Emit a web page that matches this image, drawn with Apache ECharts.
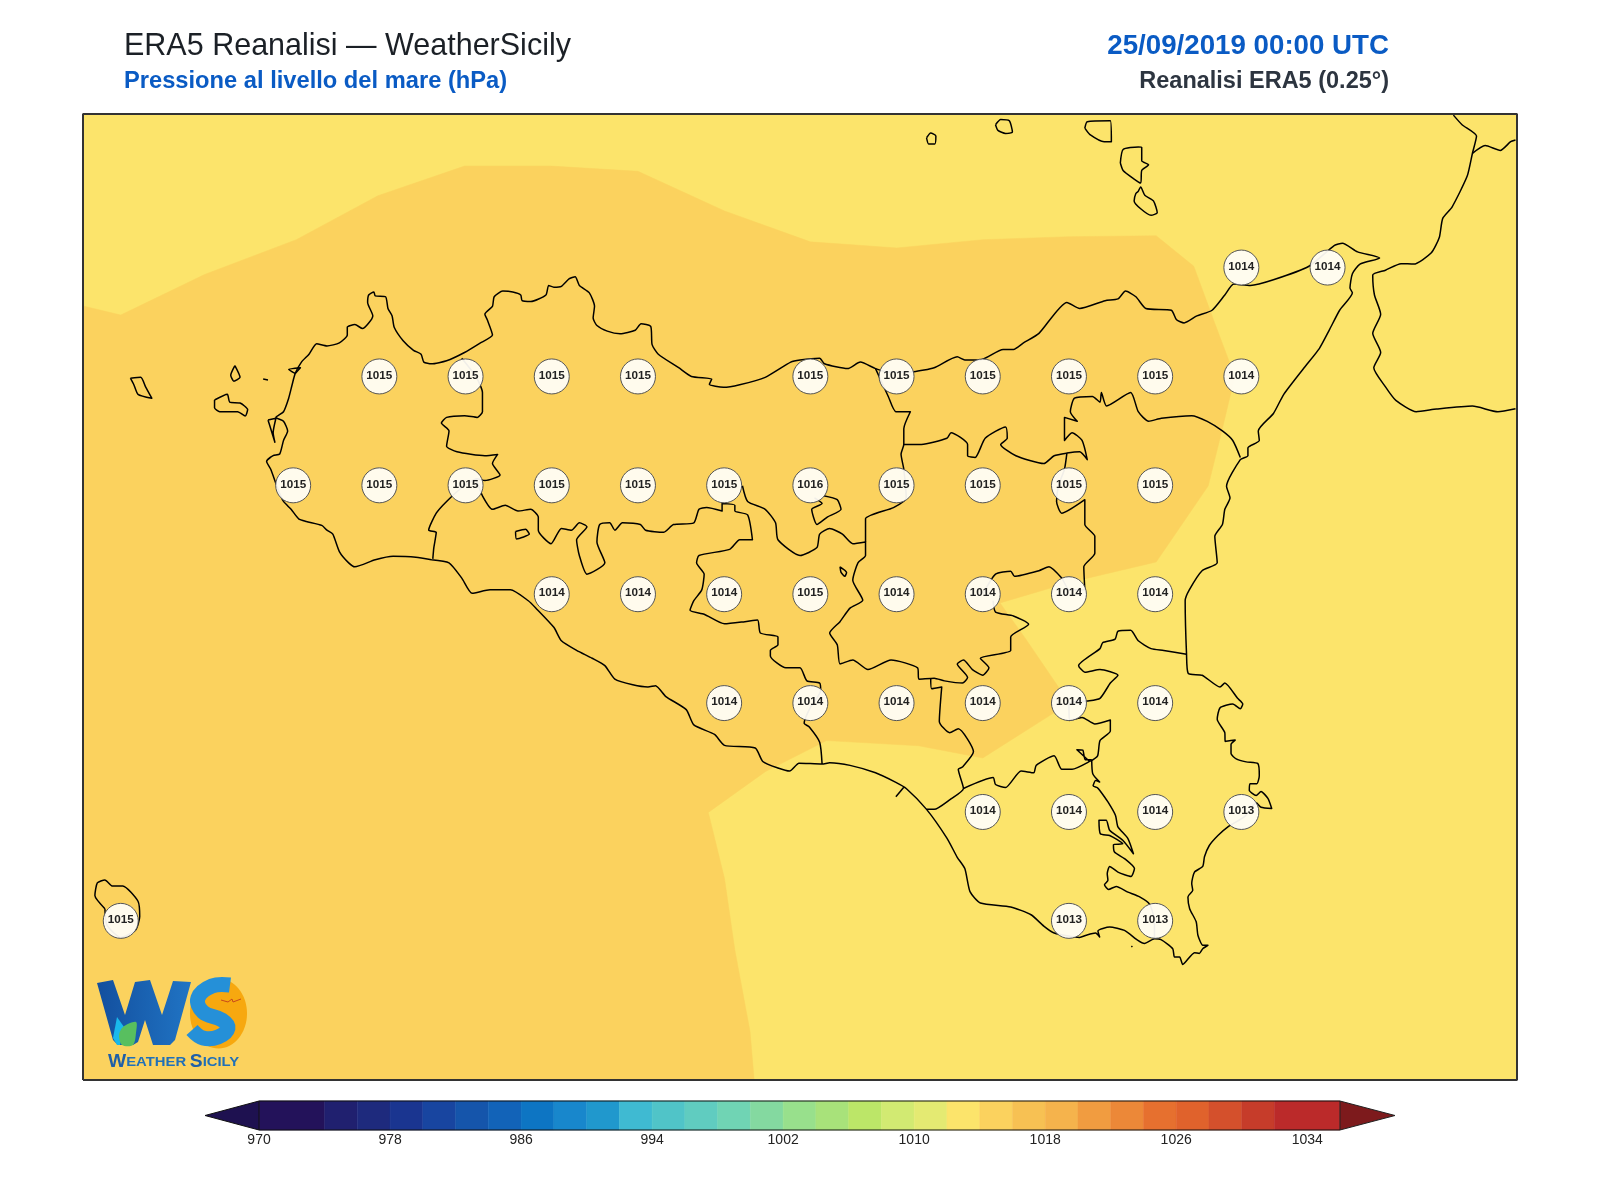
<!DOCTYPE html>
<html>
<head>
<meta charset="utf-8">
<title>ERA5 Reanalisi</title>
<script src="https://cdn.jsdelivr.net/npm/echarts@6/dist/echarts.min.js"></script>
<style>
  html, body { margin: 0; padding: 0; background: #fff; }
  #chart { width: 1600px; height: 1200px; }
</style>
</head>
<body>
<div id="chart"></div>
<script>
// griglia ERA5 0.25: valori
const stationLon = [15.25,15.5,
  12.75,13,13.25,13.5,14,14.25,14.5,14.75,15,15.25,
  12.5,12.75,13,13.25,13.5,13.75,14,14.25,14.5,14.75,15,
  13.25,13.5,13.75,14,14.25,14.5,14.75,15,
  13.75,14,14.25,14.5,14.75,15,
  14.5,14.75,15,15.25,
  12,14.75,15];
const stationLat = [38.25,38.25,
  38,38,38,38,38,38,38,38,38,38,
  37.75,37.75,37.75,37.75,37.75,37.75,37.75,37.75,37.75,37.75,37.75,
  37.5,37.5,37.5,37.5,37.5,37.5,37.5,37.5,
  37.25,37.25,37.25,37.25,37.25,37.25,
  37,37,37,37,
  36.75,36.75,36.75];
const stationHpa = [1014,1014,
  1015,1015,1015,1015,1015,1015,1015,1015,1015,1014,
  1015,1015,1015,1015,1015,1015,1016,1015,1015,1015,1015,
  1014,1014,1014,1015,1014,1014,1014,1014,
  1014,1014,1014,1014,1014,1014,
  1014,1014,1014,1013,
  1015,1013,1013];

// estensione della mappa
const lonRange = [11.8905, 16.0494];
const latRange = [36.3846, 38.6026];

// campo di pressione: zona 1014-1016 sopra il fondo 1012-1014
const seaField = [[11.8905,36.3846],[11.8905,38.6026],[16.0494,38.6026],[16.0494,36.3846]];
const highField = [[11.8905,38.162],[12,38.141],[12.243,38.234],[12.509,38.314],[12.746,38.415],[12.997,38.483],[13.249,38.483],[13.5,38.471],[13.751,38.38],[14,38.309],[14.251,38.295],[14.5,38.314],[14.751,38.321],[15.003,38.323],[15.112,38.253],[15.172,38.124],[15.231,38],[15.192,37.871],[15.154,37.749],[15.003,37.574],[14.751,37.527],[14.55,37.48],[14.624,37.398],[14.751,37.25],[14.5,37.124],[14.314,37.152],[14.047,37.164],[13.87,37.093],[13.704,36.999],[13.751,36.847],[13.781,36.683],[13.825,36.496],[13.837,36.3846],[11.8905,36.3846]];

// costa della Sicilia
const sicilyCoast = [[12.901,37.579],[12.856,37.585],[12.79,37.587],[12.738,37.579],[12.679,37.563],[12.661,37.572],[12.634,37.598],[12.615,37.638],[12.598,37.647],[12.583,37.658],[12.538,37.667],[12.516,37.673],[12.494,37.695],[12.472,37.713],[12.457,37.739],[12.435,37.787],[12.423,37.805],[12.442,37.818],[12.461,37.822],[12.472,37.853],[12.484,37.875],[12.472,37.897],[12.45,37.906],[12.472,37.919],[12.487,37.95],[12.497,37.981],[12.506,38.007],[12.524,38.033],[12.546,38.051],[12.568,38.075],[12.598,38.07],[12.634,38.077],[12.657,38.095],[12.657,38.113],[12.679,38.119],[12.701,38.11],[12.731,38.139],[12.716,38.17],[12.719,38.187],[12.734,38.194],[12.738,38.185],[12.768,38.183],[12.775,38.156],[12.787,38.139],[12.793,38.113],[12.819,38.082],[12.849,38.06],[12.871,38.051],[12.879,38.033],[12.901,38.029],[12.945,38.036],[12.997,38.055],[13.041,38.076],[13.078,38.095],[13.063,38.13],[13.056,38.143],[13.078,38.161],[13.083,38.183],[13.108,38.196],[13.137,38.194],[13.16,38.187],[13.164,38.174],[13.189,38.172],[13.233,38.187],[13.241,38.209],[13.256,38.205],[13.278,38.207],[13.3,38.224],[13.318,38.229],[13.33,38.209],[13.359,38.192],[13.374,38.161],[13.37,38.134],[13.381,38.117],[13.411,38.104],[13.448,38.098],[13.492,38.106],[13.509,38.121],[13.537,38.115],[13.541,38.073],[13.559,38.051],[13.618,38.02],[13.655,38],[13.714,37.994],[13.707,37.982],[13.748,37.975],[13.795,37.981],[13.869,37.998],[13.943,38.033],[13.97,38.038],[14.027,38.042],[14.041,38.029],[14.108,38.018],[14.145,38.033],[14.189,38.018],[14.226,38.01],[14.3,38.011],[14.359,38.02],[14.426,38.045],[14.448,38.038],[14.493,38.038],[14.559,38.062],[14.589,38.062],[14.618,38.077],[14.663,38.099],[14.744,38.17],[14.781,38.156],[14.855,38.174],[14.892,38.178],[14.914,38.196],[14.944,38.183],[14.973,38.156],[15.047,38.152],[15.062,38.13],[15.084,38.123],[15.121,38.139],[15.165,38.152],[15.202,38.187],[15.228,38.212],[15.276,38.209],[15.343,38.222],[15.446,38.253],[15.52,38.301],[15.543,38.306],[15.587,38.286],[15.651,38.272],[15.594,38.258],[15.572,38.236],[15.565,38.203],[15.572,38.192],[15.535,38.152],[15.506,38.108],[15.476,38.064],[15.432,38.02],[15.373,37.959],[15.343,37.915],[15.299,37.875],[15.302,37.853],[15.269,37.836],[15.269,37.818],[15.247,37.809],[15.207,37.748],[15.217,37.721],[15.202,37.695],[15.195,37.66],[15.173,37.633],[15.18,37.572],[15.136,37.554],[15.099,37.51],[15.087,37.485],[15.091,37.362],[15.096,37.318],[15.136,37.314],[15.188,37.287],[15.202,37.296],[15.239,37.261],[15.254,37.248],[15.247,37.237],[15.225,37.248],[15.188,37.239],[15.18,37.213],[15.202,37.182],[15.203,37.162],[15.232,37.165],[15.22,37.155],[15.22,37.134],[15.235,37.122],[15.264,37.115],[15.298,37.111],[15.302,37.084],[15.295,37.065],[15.275,37.065],[15.273,37.05],[15.293,37.038],[15.307,37.047],[15.327,37.031],[15.338,37.008],[15.307,37.011],[15.293,37.021],[15.26,36.99],[15.211,36.966],[15.182,36.946],[15.157,36.923],[15.143,36.897],[15.138,36.875],[15.114,36.862],[15.106,36.836],[15.109,36.82],[15.095,36.805],[15.1,36.778],[15.119,36.748],[15.124,36.717],[15.138,36.694],[15.153,36.694],[15.138,36.686],[15.128,36.675],[15.114,36.677],[15.08,36.65],[15.071,36.667],[15.056,36.667],[15.051,36.686],[15.017,36.707],[14.998,36.709],[14.969,36.698],[14.95,36.705],[14.911,36.728],[14.868,36.736],[14.834,36.727],[14.839,36.713],[14.827,36.722],[14.8,36.717],[14.781,36.712],[14.707,36.722],[14.677,36.738],[14.64,36.764],[14.581,36.782],[14.493,36.791],[14.463,36.817],[14.448,36.87],[14.426,36.896],[14.396,36.94],[14.337,37.006],[14.278,37.054],[14.248,37.068],[14.189,37.09],[14.115,37.107],[14.056,37.113],[14.034,37.11],[13.967,37.112],[13.94,37.094],[13.906,37.101],[13.862,37.116],[13.84,37.147],[13.751,37.153],[13.722,37.178],[13.662,37.2],[13.64,37.235],[13.581,37.265],[13.551,37.29],[13.529,37.287],[13.485,37.292],[13.433,37.305],[13.404,37.336],[13.367,37.353],[13.322,37.371],[13.278,37.393],[13.256,37.424],[13.204,37.468],[13.182,37.485],[13.13,37.51],[13.071,37.51],[13.019,37.502],[12.989,37.537],[12.952,37.572],[12.901,37.579]];

// confini provinciali
const trapaniBorder = [[12.989,38.042],[13.03,38],[13.049,37.963],[13.049,37.919],[13.034,37.906],[12.997,37.91],[12.945,37.906],[12.93,37.893],[12.952,37.875],[12.945,37.84],[12.975,37.827],[13.056,37.818],[13.093,37.821],[13.078,37.8],[13.1,37.774],[13.056,37.761],[13.034,37.765],[12.99,37.745],[12.945,37.713],[12.915,37.686],[12.893,37.647],[12.915,37.642],[12.908,37.607],[12.905,37.581]];
const agrigentoBorder = [[13.03,37.765],[13.049,37.726],[13.078,37.695],[13.115,37.704],[13.152,37.691],[13.189,37.695],[13.211,37.677],[13.211,37.647],[13.248,37.616],[13.278,37.651],[13.307,37.647],[13.33,37.664],[13.352,37.655],[13.322,37.625],[13.33,37.589],[13.352,37.546],[13.404,37.572],[13.381,37.62],[13.389,37.66],[13.418,37.664],[13.433,37.647],[13.455,37.664],[13.507,37.66],[13.522,37.647],[13.574,37.642],[13.603,37.66],[13.662,37.664],[13.677,37.695],[13.699,37.699],[13.744,37.691],[13.744,37.708],[13.781,37.704],[13.781,37.691],[13.818,37.682],[13.832,37.625],[13.795,37.625],[13.766,37.603],[13.677,37.589],[13.67,37.572],[13.692,37.546],[13.685,37.51],[13.662,37.485],[13.651,37.463],[13.692,37.454],[13.751,37.432],[13.81,37.437],[13.847,37.441],[13.855,37.411],[13.906,37.402],[13.906,37.384],[13.884,37.371],[13.884,37.358],[13.929,37.331],[13.97,37.331],[13.99,37.301],[14.027,37.296],[14.03,37.279],[14,37.24],[13.982,37.204],[13.997,37.195],[14.027,37.16],[14.034,37.11]];
const ennaWest = [[13.803,37.749],[13.818,37.713],[13.869,37.695],[13.899,37.664],[13.906,37.625],[13.97,37.589],[14.019,37.607],[14.027,37.638],[14.056,37.651],[14.093,37.638],[14.123,37.616],[14.16,37.62],[14.16,37.589],[14.138,37.572],[14.123,37.532],[14.152,37.486],[14.115,37.468],[14.086,37.437],[14.056,37.411],[14.078,37.384],[14.086,37.34],[14.123,37.349],[14.167,37.327],[14.234,37.349],[14.311,37.331],[14.315,37.305],[14.359,37.307],[14.389,37.301],[14.441,37.296],[14.456,37.309],[14.426,37.34],[14.444,37.349],[14.47,37.327],[14.5,37.314],[14.518,37.331],[14.493,37.353],[14.581,37.371],[14.581,37.402],[14.633,37.431],[14.589,37.45],[14.537,37.459],[14.53,37.485]];
const ennaEast = [[14.5,37.5],[14.537,37.546],[14.581,37.553],[14.592,37.541],[14.663,37.554],[14.692,37.563],[14.729,37.537],[14.751,37.51],[14.796,37.51],[14.793,37.563],[14.825,37.594],[14.825,37.633],[14.796,37.66],[14.796,37.717],[14.729,37.686],[14.714,37.713],[14.72,37.75],[14.737,37.787],[14.744,37.824]];
const messinaWest = [[14.189,38.018],[14.226,37.954],[14.248,37.919],[14.29,37.919],[14.271,37.88],[14.271,37.844],[14.263,37.822],[14.271,37.787],[14.278,37.721],[14.241,37.699],[14.16,37.673],[14.16,37.62]];
const messinaSouth = [[14.271,37.844],[14.322,37.844],[14.396,37.858],[14.408,37.871],[14.456,37.844],[14.456,37.818],[14.478,37.814],[14.507,37.858],[14.566,37.884],[14.571,37.858],[14.552,37.844],[14.596,37.818],[14.677,37.8],[14.707,37.818],[14.744,37.824],[14.781,37.827],[14.803,37.809],[14.788,37.853],[14.759,37.871],[14.737,37.853],[14.737,37.906],[14.774,37.897],[14.754,37.919],[14.766,37.95],[14.818,37.954],[14.84,37.941],[14.844,37.963],[14.859,37.932],[14.929,37.963],[14.951,37.919],[14.981,37.897],[15.018,37.904],[15.106,37.91],[15.151,37.897],[15.195,37.875],[15.225,37.853],[15.247,37.814]];
const nisseniBorder = [[14.038,37.726],[14.078,37.717],[14.089,37.695],[14.049,37.677],[14.019,37.66],[14.004,37.695],[14.034,37.708],[14.012,37.721]];
const catanese = [[14.349,37.307],[14.352,37.283],[14.381,37.287],[14.374,37.208],[14.404,37.182],[14.429,37.191],[14.473,37.138],[14.441,37.103],[14.429,37.098],[14.444,37.054],[14.404,37.028],[14.359,37.006],[14.337,37.006]];
const siracusaBorder = [[14.444,37.054],[14.53,37.079],[14.537,37.063],[14.566,37.056],[14.611,37.094],[14.648,37.09],[14.655,37.107],[14.707,37.129],[14.729,37.098],[14.759,37.098],[14.81,37.116],[14.833,37.129],[14.84,37.164],[14.87,37.186],[14.87,37.211],[14.825,37.202],[14.788,37.217],[14.751,37.21],[14.75,37.25],[14.803,37.255],[14.84,37.261],[14.87,37.296],[14.892,37.314],[14.84,37.327],[14.796,37.321],[14.778,37.336],[14.84,37.375],[14.848,37.389],[14.884,37.397],[14.892,37.415],[14.929,37.417],[14.951,37.393],[14.988,37.375],[15.025,37.371],[15.091,37.362]];
const ragusaBorder = [[14.81,37.116],[14.773,37.143],[14.79,37.142],[14.797,37.12],[14.816,37.12]];
const ragusaEast = [[14.816,37.12],[14.819,37.088],[14.839,37.069],[14.827,37.072],[14.82,37.06],[14.832,37.056],[14.839,37.05],[14.863,37.023],[14.885,36.992],[14.892,36.966],[14.921,36.939],[14.937,36.904],[14.906,36.935],[14.868,36.958],[14.858,36.981],[14.837,36.981],[14.841,36.95],[14.868,36.946],[14.906,36.927],[14.879,36.925],[14.882,36.908],[14.911,36.893],[14.94,36.87],[14.93,36.852],[14.892,36.862],[14.868,36.875],[14.861,36.858],[14.863,36.843],[14.853,36.833],[14.865,36.822],[14.887,36.829],[14.921,36.816],[14.955,36.805],[14.984,36.788],[14.998,36.75],[14.998,36.709]];
const gelaPier = [[14.248,37.035],[14.271,37.057]];

// laghi
const lakeArancio = [[13.145,37.644],[13.174,37.649],[13.185,37.638],[13.148,37.627],[13.145,37.644]];
const lakePergusa = [[14.086,37.563],[14.105,37.55],[14.1,37.541],[14.089,37.55],[14.086,37.563]];

// isole
const marettimo = [[12.028,37.996],[12.058,37.998],[12.072,37.976],[12.09,37.95],[12.05,37.959],[12.038,37.981],[12.028,37.996]];
const levanzo = [[12.331,38.025],[12.346,37.998],[12.328,37.989],[12.319,38.003],[12.331,38.025]];
const formica = [[12.413,37.994],[12.427,37.992]];
const favignana = [[12.272,37.946],[12.309,37.959],[12.316,37.941],[12.346,37.939],[12.368,37.924],[12.361,37.909],[12.339,37.919],[12.287,37.919],[12.272,37.928],[12.272,37.946]];
const stagnone = [[12.427,37.9],[12.45,37.904],[12.442,37.871],[12.447,37.849],[12.435,37.88],[12.427,37.9]];
const trapaniSalt = [[12.506,38.007],[12.487,38.016],[12.521,38.02],[12.506,38.007]];
const alicudi = [[14.337,38.548],[14.349,38.559],[14.364,38.552],[14.361,38.534],[14.343,38.534],[14.337,38.548]];
const filicudi = [[14.537,38.578],[14.552,38.59],[14.577,38.587],[14.586,38.561],[14.566,38.558],[14.544,38.565],[14.537,38.578]];
const salina = [[14.796,38.57],[14.803,38.585],[14.87,38.587],[14.873,38.539],[14.852,38.539],[14.81,38.556],[14.796,38.57]];
const lipari = [[14.899,38.49],[14.907,38.521],[14.951,38.527],[14.961,38.526],[14.961,38.495],[14.981,38.486],[14.961,38.473],[14.958,38.444],[14.936,38.455],[14.907,38.473],[14.899,38.49]];
const vulcano = [[14.951,38.425],[14.958,38.435],[14.97,38.416],[14.995,38.403],[15.006,38.376],[14.988,38.37],[14.958,38.385],[14.939,38.403],[14.944,38.42],[14.951,38.425]];
const pantelleria = [[11.954,36.778],[11.925,36.808],[11.932,36.837],[11.954,36.844],[11.976,36.83],[12.006,36.83],[12.05,36.795],[12.055,36.76],[12.043,36.729],[12,36.712],[11.96,36.74],[11.954,36.778]];
const portoPaloRock = [[14.931,36.692],[14.934,36.69]];

// Calabria
const calabriaCoast = [[15.865,38.6],[15.89,38.578],[15.932,38.552],[15.92,38.512],[15.905,38.46],[15.861,38.389],[15.834,38.363],[15.824,38.319],[15.801,38.284],[15.75,38.258],[15.713,38.259],[15.668,38.244],[15.631,38.233],[15.636,38.187],[15.654,38.143],[15.631,38.099],[15.654,38.055],[15.634,38.02],[15.668,37.976],[15.698,37.945],[15.757,37.919],[15.816,37.925],[15.92,37.932],[15.994,37.919],[16.045,37.926]];
const calabriaBorder = [[15.92,38.512],[15.957,38.53],[16.001,38.519],[16.031,38.539],[16.045,38.543]];

const mapLines = [sicilyCoast, trapaniBorder, agrigentoBorder, ennaWest, ennaEast, messinaWest, messinaSouth,
  nisseniBorder, catanese, siracusaBorder, ragusaBorder, ragusaEast, gelaPier, lakeArancio, lakePergusa,
  marettimo, levanzo, formica, favignana, stagnone, trapaniSalt, alicudi, filicudi, salina, lipari, vulcano,
  pantelleria, portoPaloRock, calabriaCoast, calabriaBorder];

// barra colori
const binEdges = [970,974,976,978,980,982,984,986,988,990,992,994,996,998,1000,1002,1004,1006,1008,1010,1012,1014,1016,1018,1020,1022,1024,1026,1028,1030,1032,1036];
const binColors = ['#23125a','#20206f','#1e2a7d','#1a3590','#1845a0','#1555ab','#1263b8','#0d75c3','#1887cc','#2098cd','#3fbad2','#50c4c8','#60ccc0','#70d4b4','#84d9a0','#98e08c','#a8e27a','#bce668','#d2ea72','#e4ea72','#fce46b','#fbd25e','#f7c153','#f5b34c','#f19c40','#ec8838','#e6702f','#e0622c','#d4502c','#c63c2a','#bb2a2a'];
const barTicks = [970,978,986,994,1002,1010,1018,1026,1034];
const barRange = [966.7, 1039.36];

const fontName = '"Liberation Sans", Arial, sans-serif';
const myChart = echarts.init(document.getElementById('chart'));

function fieldColor(level) {
    return binColors[binEdges.indexOf(level)];
}

function fieldSeries(ring, level, z) {
    return {
        type: 'custom',
        coordinateSystem: 'cartesian2d',
        xAxisIndex: 0,
        yAxisIndex: 0,
        silent: true,
        z: z,
        data: [0],
        renderItem: function (params, api) {
            return {
                type: 'polygon',
                shape: { points: ring.map(function (p) { return api.coord(p); }) },
                style: { fill: fieldColor(level), stroke: fieldColor(level), lineWidth: 0.5 }
            };
        }
    };
}

const lineSeries = mapLines.map(function (path) {
    return {
        type: 'line',
        xAxisIndex: 0,
        yAxisIndex: 0,
        data: path,
        showSymbol: false,
        silent: true,
        smooth: 0.2,
        z: 3,
        lineStyle: { color: '#000', width: 1.5, join: 'round' }
    };
});

// logo WS in basso a sinistra
function logoElements() {
    return [
        {
            type: 'ellipse', z: 10, silent: true,
            shape: { cx: 218.5, cy: 1013.5, rx: 28.5, ry: 35 },
            style: { fill: '#f7a80f' }
        },
        {
            type: 'polyline', z: 11, silent: true,
            shape: { points: [[230, 985], [212, 986], [198, 998], [203, 1012], [222, 1020], [228, 1028], [218, 1037], [203, 1038], [192, 1030]], smooth: 0.4 },
            style: { fill: null, stroke: '#2590d8', lineWidth: 15 }
        },
        {
            type: 'polyline', z: 12, silent: true,
            shape: { points: [[221, 1000], [228, 1002], [232, 999], [233, 1002], [241, 999]] },
            style: { fill: null, stroke: '#c84a1a', lineWidth: 1 }
        },
        {
            type: 'polygon', z: 11, silent: true,
            shape: { points: [[97, 983], [113, 980], [125, 1015], [135, 982], [150, 980], [162, 1015], [173, 981], [191, 982], [175, 1040], [170, 1045], [153, 1045], [145, 1020], [138, 1042], [133, 1045], [118, 1045], [113, 1040]] },
            style: {
                fill: new echarts.graphic.LinearGradient(0, 0, 1, 0, [
                    { offset: 0, color: '#134f9e' },
                    { offset: 1, color: '#2074c4' }
                ])
            }
        },
        {
            type: 'polygon', z: 12, silent: true,
            shape: { points: [[117, 1017], [124, 1027], [120, 1045], [117, 1045], [113, 1038]] },
            style: { fill: '#19b9ec' }
        },
        {
            type: 'polygon', z: 13, silent: true,
            shape: { points: [[136, 1022], [123, 1027], [119, 1035], [122, 1045], [133, 1045], [136, 1033]], smooth: 0.3 },
            style: { fill: '#58bf5f' }
        },
        {
            type: 'text', z: 12, silent: true,
            x: 108, y: 1053, scaleX: 1.1,
            style: {
                text: '{a|W}{b|EATHER} {a|S}{b|ICILY}',
                rich: {
                    a: { fontFamily: fontName, fontSize: 17.5, fontWeight: 'bold', fill: '#1f5fa8' },
                    b: { fontFamily: fontName, fontSize: 13.5, fontWeight: 'bold', fill: '#2070b8' }
                }
            }
        }
    ];
}

myChart.setOption({
    animation: false,
    backgroundColor: '#fff',
    title: [
        { text: 'ERA5 Reanalisi — WeatherSicily', left: 124, top: 31, padding: 0, textStyle: { fontFamily: fontName, fontSize: 30.5, fontWeight: 'normal', color: '#1b2026' } },
        { text: 'Pressione al livello del mare (hPa)', left: 124, top: 69, padding: 0, textStyle: { fontFamily: fontName, fontSize: 23.7, fontWeight: 'bold', color: '#0a5bc4' } },
        { text: '25/09/2019 00:00 UTC', right: 211, top: 32, padding: 0, textStyle: { fontFamily: fontName, fontSize: 27.7, fontWeight: 'bold', color: '#0a5bc4' } },
        { text: 'Reanalisi ERA5 (0.25°)', right: 211, top: 70, padding: 0, textStyle: { fontFamily: fontName, fontSize: 23.5, fontWeight: 'bold', color: '#2d3540' } }
    ],
    grid: [
        { left: 83, right: 83, top: 114, bottom: 120 },
        { left: 205, width: 1190, top: 1101, height: 29 }
    ],
    xAxis: [
        { type: 'value', gridIndex: 0, min: lonRange[0], max: lonRange[1], show: false },
        {
            type: 'value', gridIndex: 1, min: barRange[0], max: barRange[1],
            axisLine: { show: false }, axisTick: { show: false }, splitLine: { show: false },
            axisLabel: {
                customValues: barTicks, margin: 3, fontFamily: fontName, fontSize: 14, color: '#222',
                formatter: function (v) { return String(v); }
            }
        }
    ],
    yAxis: [
        { type: 'value', gridIndex: 0, min: latRange[0], max: latRange[1], show: false },
        { type: 'value', gridIndex: 1, min: 0, max: 1, show: false }
    ],
    graphic: logoElements(),
    series: [
        fieldSeries(seaField, 1012, 1),
        fieldSeries(highField, 1014, 2)
    ].concat(lineSeries).concat([
        {
            type: 'scatter',
            xAxisIndex: 0,
            yAxisIndex: 0,
            silent: true,
            z: 4,
            symbol: 'circle',
            symbolSize: 35,
            data: stationHpa.map(function (v, i) { return [stationLon[i], stationLat[i], v]; }),
            itemStyle: { color: 'rgba(255,253,246,0.94)', borderColor: '#555', borderWidth: 1, opacity: 1 },
            label: {
                show: true, position: 'inside', fontFamily: fontName, fontSize: 11.7, fontWeight: 'bold', color: '#222',
                offset: [0, -1],
                formatter: function (p) { return String(p.value[2]); }
            }
        },
        {
            // cornice della mappa
            type: 'line',
            xAxisIndex: 0,
            yAxisIndex: 0,
            silent: true,
            z: 6,
            showSymbol: false,
            clip: false,
            data: [[lonRange[0], latRange[0]], [lonRange[0], latRange[1]], [lonRange[1], latRange[1]], [lonRange[1], latRange[0]], [lonRange[0], latRange[0]]],
            lineStyle: { color: '#333', width: 2 }
        },
        {
            type: 'custom',
            coordinateSystem: 'cartesian2d',
            xAxisIndex: 1,
            yAxisIndex: 1,
            silent: true,
            z: 2,
            data: binColors.map(function (c, i) { return [binEdges[i], binEdges[i + 1], i]; }),
            renderItem: function (params, api) {
                const a = api.coord([api.value(0), 1]);
                const b = api.coord([api.value(1), 0]);
                const c = binColors[api.value(2)];
                return {
                    type: 'rect',
                    shape: { x: a[0], y: a[1], width: b[0] - a[0], height: b[1] - a[1] },
                    style: { fill: c, stroke: c, lineWidth: 0.5 }
                };
            }
        },
        {
            // frecce di estensione e bordo della barra
            type: 'custom',
            coordinateSystem: 'cartesian2d',
            xAxisIndex: 1,
            yAxisIndex: 1,
            silent: true,
            z: 3,
            data: [0],
            renderItem: function (params, api) {
                const l = binEdges[0];
                const r = binEdges[binEdges.length - 1];
                const pts = function (list) { return list.map(function (p) { return api.coord(p); }); };
                return {
                    type: 'group',
                    children: [
                        { type: 'polygon', shape: { points: pts([[l, 0], [l, 1], [barRange[0], 0.5]]) }, style: { fill: '#1e1150', stroke: '#111', lineWidth: 1 } },
                        { type: 'polygon', shape: { points: pts([[r, 0], [r, 1], [barRange[1], 0.5]]) }, style: { fill: '#7d1a1c', stroke: '#222', lineWidth: 1 } },
                        { type: 'polyline', shape: { points: pts([[l, 1], [r, 1]]) }, style: { stroke: '#111', lineWidth: 1.2, fill: null } },
                        { type: 'polyline', shape: { points: pts([[l, 0], [r, 0]]) }, style: { stroke: '#111', lineWidth: 1.2, fill: null } }
                    ]
                };
            }
        }
    ])
});
</script>
</body>
</html>
